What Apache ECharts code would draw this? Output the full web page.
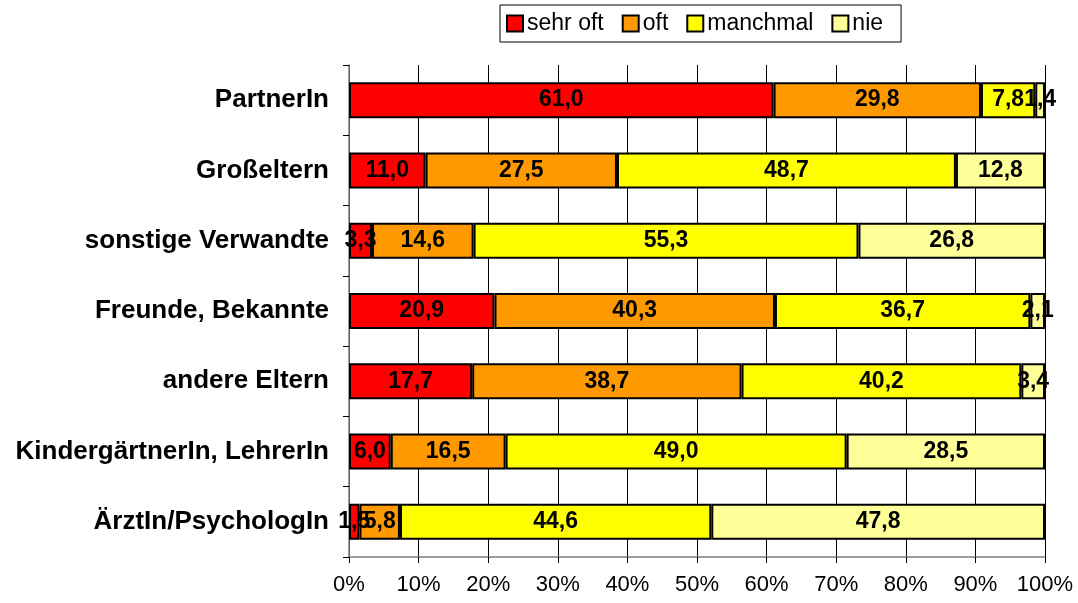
<!DOCTYPE html>
<html>
<head>
<meta charset="utf-8">
<script src="https://cdn.jsdelivr.net/npm/echarts@6/dist/echarts.min.js"></script>
<style>
  html, body { margin: 0; padding: 0; background: #fff; }
  #chart { width: 1078px; height: 603px; }
</style>
</head>
<body>
<div id="chart"></div>
<script>
// Kategorien (von oben nach unten)
var categories = ['PartnerIn', 'Großeltern', 'sonstige Verwandte', 'Freunde, Bekannte',
  'andere Eltern', 'KindergärtnerIn, LehrerIn', 'ÄrztIn/PsychologIn'];
// Anteile in Prozent
var sehrOft   = [61.0, 11.0, 3.3, 20.9, 17.7, 6.0, 1.5];
var oft       = [29.8, 27.5, 14.6, 40.3, 38.7, 16.5, 5.8];
var manchmal  = [7.8, 48.7, 55.3, 36.7, 40.2, 49.0, 44.6];
var nie       = [1.4, 12.8, 26.8, 2.1, 3.4, 28.5, 47.8];
var tickLabels = ['0%', '10%', '20%', '30%', '40%', '50%', '60%', '70%', '80%', '90%', '100%'];

var font = "'Liberation Sans', Arial, sans-serif";

// 100%-Stapel: jede Zeile auf 100 normieren, Beschriftung zeigt den Originalwert
var all = [sehrOft, oft, manchmal, nie];
var rowSum = categories.map(function (c, i) {
  return all.reduce(function (s, arr) { return s + arr[i]; }, 0);
});

function mkSeries(name, data, color) {
  return {
    name: name,
    type: 'bar',
    stack: 'total',
    barWidth: 36,
    data: data.map(function (v, i) { return { value: v / rowSum[i] * 100, raw: v }; }),
    itemStyle: { color: color, borderColor: '#000', borderWidth: 2 },
    label: {
      show: true,
      position: 'inside',
      color: '#000',
      fontFamily: font,
      fontWeight: 'bold',
      fontSize: 23,
      formatter: function (p) { return p.data.raw.toFixed(1).replace('.', ','); }
    }
  };
}

var chart = echarts.init(document.getElementById('chart'));
chart.setOption({
  animation: false,
  backgroundColor: '#fff',
  grid: { left: 349, right: 33, top: 65, bottom: 46 },
  legend: {
    left: 500,
    top: 5,
    icon: 'rect',
    itemWidth: 16,
    itemHeight: 16,
    itemGap: 18,
    padding: [7, 18, 7, 6],
    borderColor: '#000',
    borderWidth: 1,
    textStyle: { fontFamily: font, fontSize: 23, color: '#000', padding: [0, 0, 0, -1] },
    itemStyle: { borderColor: '#000', borderWidth: 2 },
    data: ['sehr oft', 'oft', 'manchmal', 'nie']
  },
  xAxis: {
    type: 'value',
    min: 0,
    max: 100,
    interval: 10,
    axisLine: { show: true, lineStyle: { color: '#808080', width: 1.5 } },
    axisTick: { show: true, length: 6, lineStyle: { color: '#000' } },
    splitLine: { show: true, lineStyle: { color: '#000', width: 1 } },
    axisLabel: {
      margin: 17,
      fontFamily: font,
      fontSize: 22,
      color: '#000',
      formatter: function (v) { return tickLabels[Math.round(v / 10)]; }
    }
  },
  yAxis: {
    type: 'category',
    inverse: true,
    data: categories,
    axisLine: { show: true, lineStyle: { color: '#808080', width: 1.5 } },
    axisTick: { show: true, length: 6, lineStyle: { color: '#000' } },
    axisLabel: {
      margin: 20,
      fontFamily: font,
      fontSize: 26,
      fontWeight: 'bold',
      color: '#000'
    }
  },
  series: [
    mkSeries('sehr oft', sehrOft, '#FF0000'),
    mkSeries('oft', oft, '#FF9900'),
    mkSeries('manchmal', manchmal, '#FFFF00'),
    mkSeries('nie', nie, '#FFFF99')
  ]
});
</script>
</body>
</html>
